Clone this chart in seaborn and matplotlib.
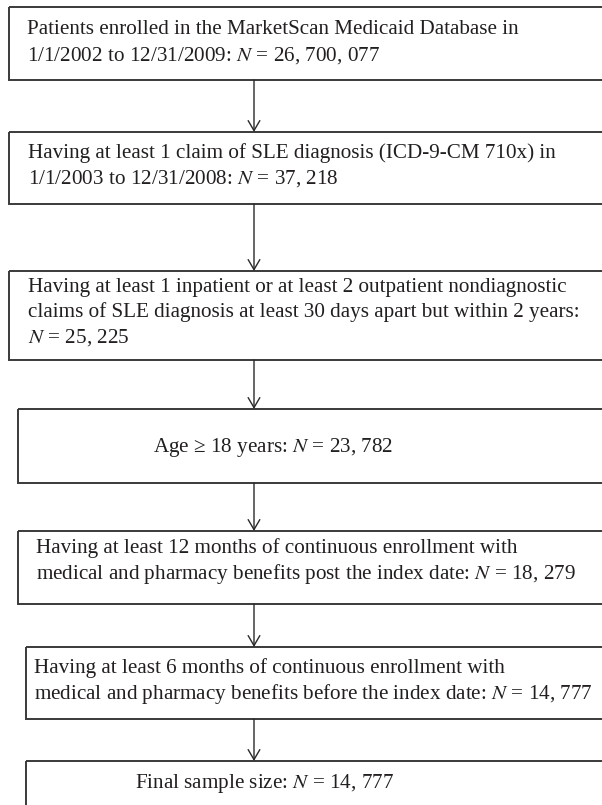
import matplotlib
matplotlib.use("Agg")
import matplotlib.pyplot as plt
import seaborn as sns
from matplotlib.patches import Rectangle

# Flow of patient selection (text per step and the count kept at that step)
step_text = [
    "Patients enrolled in the MarketScan Medicaid Database in\n1/1/2002 to 12/31/2009:",
    "Having at least 1 claim of SLE diagnosis (ICD-9-CM 710x) in\n1/1/2003 to 12/31/2008:",
    "Having at least 1 inpatient or at least 2 outpatient nondiagnostic\nclaims of SLE diagnosis at least 30 days apart but within 2 years:\n",
    "Age \u2265 18 years:",
    "Having at least 12 months of continuous enrollment with\nmedical and pharmacy benefits post the index date:",
    "Having at least 6 months of continuous enrollment with\nmedical and pharmacy benefits before the index date:",
    "Final sample size:",
]
step_n = [26700077, 37218, 25225, 23782, 18279, 14777, 14777]

# layout in pixels (top, bottom, left edge, text x, first text line y)
box_top = [7, 132, 271, 409, 531, 647, 761]
box_bottom = [80, 204, 360, 483, 604, 719, 830]
box_left = [9, 9, 9, 18, 18, 26, 26]
text_x = [27, 28, 28, 153, 36, 34, 135]
text_y = [30, 153, 287, 447, 548, 668, 783]
line_gap = 25.5
arrow_x = 254

W, H = 602, 805


def fmt_n(n):
    return ", ".join(f"{n:,}".split(","))


sns.set_theme(style="white")
plt.rcParams["font.family"] = ["Liberation Serif", "DejaVu Serif"]
plt.rcParams["mathtext.fontset"] = "stix"

fig = plt.figure(figsize=(W / 100, H / 100), dpi=100)
ax = fig.add_axes([0, 0, 1, 1])
ax.set_xlim(0, W)
ax.set_ylim(H, 0)
ax.axis("off")

edge = "#3a3a3a"
for i, (txt, n) in enumerate(zip(step_text, step_n)):
    top, bot, left = box_top[i], box_bottom[i], box_left[i]
    ax.add_patch(Rectangle((left, top), W + 20 - left, bot - top,
                           fill=False, edgecolor=edge, linewidth=1.4))
    sep = "" if txt.endswith("\n") else " "
    full = txt + sep + "$N$ = " + fmt_n(n)
    for j, line in enumerate(full.split("\n")):
        ax.text(text_x[i], text_y[i] + j * line_gap, line, fontsize=15.2,
                color="#231f20", ha="left", va="center")

# arrows between consecutive boxes
for i in range(len(step_n) - 1):
    ax.annotate("", xy=(arrow_x, box_top[i + 1]), xytext=(arrow_x, box_bottom[i]),
                arrowprops=dict(arrowstyle="->,head_length=0.6,head_width=0.35",
                                color="#2a2a2a", lw=1.0, shrinkA=0, shrinkB=0))

fig.savefig("out.png", dpi=100)
